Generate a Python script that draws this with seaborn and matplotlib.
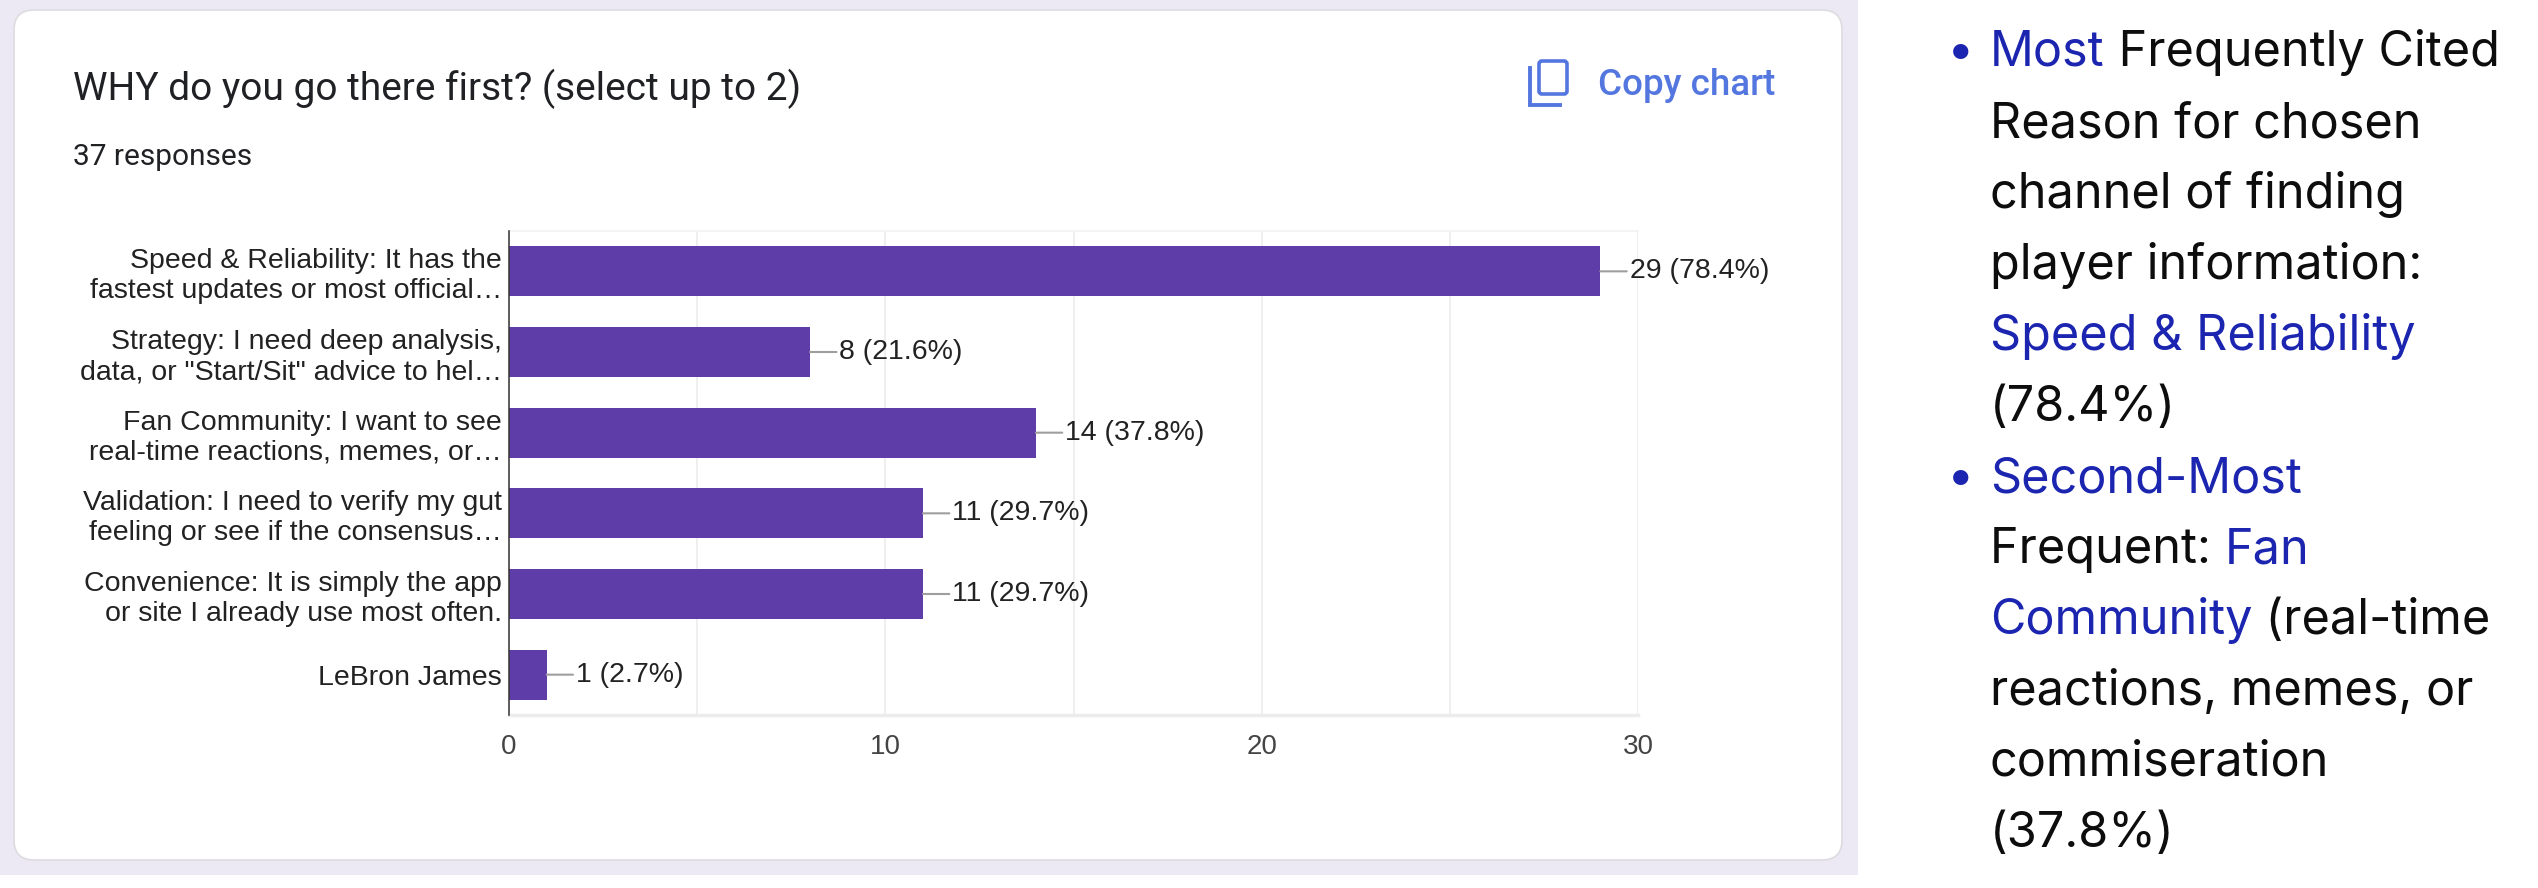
import pandas as pd
import matplotlib
matplotlib.use("Agg")
import matplotlib.pyplot as plt
import seaborn as sns
from matplotlib.patches import FancyBboxPatch, Rectangle
from matplotlib.lines import Line2D
from matplotlib.font_manager import FontProperties

# Chart data
reasons = [
    "Speed & Reliability: It has the\nfastest updates or most official\u2026",
    "Strategy: I need deep analysis,\ndata, or \"Start/Sit\" advice to hel\u2026",
    "Fan Community: I want to see\nreal-time reactions, memes, or\u2026",
    "Validation: I need to verify my gut\nfeeling or see if the consensus\u2026",
    "Convenience: It is simply the app\nor site I already use most often.",
    "LeBron James",
]
counts = [29, 8, 14, 11, 11, 1]
total_responses = 37
x_ticks = [0, 10, 20, 30]

# Side notes: (text, is_highlight) segments per line
notes = [
    [("Most", True), (" Frequently Cited", False)],
    [("Reason for chosen", False)],
    [("channel of finding", False)],
    [("player information:", False)],
    [("Speed & Reliability", True)],
    [("(78.4%)", False)],
    [("Second-Most", True)],
    [("Frequent: ", False), ("Fan", True)],
    [("Community", True), (" (real-time", False)],
    [("reactions, memes, or", False)],
    [("commiseration", False)],
    [("(37.8%)", False)],
]
bullet_lines = [0, 6]

df = pd.DataFrame({"reason": reasons, "count": counts})
df["label"] = [f"{c} ({c / total_responses * 100:.1f}%)" for c in counts]

W, H = 2538, 888
fig = plt.figure(figsize=(W / 100, H / 100), dpi=100)
fig.patch.set_facecolor("white")
px = fig.dpi_scale_trans

# Page background and card
fig.add_artist(Rectangle((0, (H - 875) / 100), 18.58, 8.75, transform=px,
                         facecolor="#ece9f5", edgecolor="none", zorder=-3))
fig.add_artist(FancyBboxPatch((14 / 100, (H - 860) / 100), (1842 - 14) / 100, (860 - 10) / 100,
                              boxstyle="round,pad=0,rounding_size=0.2", transform=px,
                              facecolor="white", edgecolor="#dcdce0", lw=1.2, zorder=-2))

# Header texts
fig.text(73 / W, 1 - 100 / H, "WHY do you go there first? (select up to 2)",
         family="Roboto", fontsize=28, color="#202124", va="baseline")
fig.text(73 / W, 1 - 165 / H, f"{total_responses} responses",
         family="Roboto", fontsize=21.5, color="#202124", va="baseline")

blue_btn = "#5476df"
fig.text(1598 / W, 1 - 95 / H, "Copy chart", family="Roboto", fontweight="medium",
         fontsize=26.5, color=blue_btn, va="baseline")
fig.add_artist(FancyBboxPatch((1539 / 100, (H - 94) / 100), 28 / 100, 33 / 100,
                              boxstyle="round,pad=0,rounding_size=0.03", transform=px,
                              facecolor="none", edgecolor=blue_btn, lw=2.6))
fig.add_artist(Line2D([1530 / 100, 1530 / 100, 1560 / 100],
                      [(H - 68) / 100, (H - 105) / 100, (H - 105) / 100],
                      transform=px, color=blue_btn, lw=2.8, solid_joinstyle="miter"))

# Bar chart
ax = fig.add_axes([509 / W, 1 - 715 / H, (1638 - 509) / W, (715 - 231) / H])
ax.set_facecolor("none")
sns.barplot(data=df, x="count", y="reason", orient="h", color="#5e3da9",
            saturation=1, width=0.62, ax=ax, zorder=3)
ax.set_xlim(0, 30)
ax.set_ylim(5.5, -0.5)
ax.set_xticks(x_ticks)
ax.set_xticks([5, 15, 25], minor=True)
ax.grid(axis="x", which="both", color="#ebebeb", lw=1.1, zorder=0)
ax.set_axisbelow(True)
ax.set_xlabel("")
ax.set_ylabel("")
ax.spines["right"].set_visible(False)
ax.spines["left"].set_color("#333333")
ax.spines["left"].set_linewidth(1.1)
ax.spines["left"].set_zorder(4)
ax.spines["bottom"].set_color("#ececec")
ax.spines["bottom"].set_linewidth(2.5)
ax.spines["top"].set_color("#f2f2f2")
ax.spines["top"].set_linewidth(1.2)
ax.tick_params(axis="y", length=0, pad=5, labelsize=20.5, labelcolor="#222222")
ax.tick_params(axis="x", which="both", length=0, pad=14, labelsize=20, labelcolor="#444444")
for lab in ax.get_yticklabels() + ax.get_xticklabels():
    lab.set_family("Liberation Sans")

for i, (c, lab) in enumerate(zip(df["count"], df["label"])):
    ax.annotate(lab, xy=(c, i), xytext=(21, 0), textcoords="offset points",
                va="center", ha="left", fontsize=20.5, family="Liberation Sans",
                color="#222222",
                arrowprops=dict(arrowstyle="-", color="#9e9e9e", lw=1.5,
                                shrinkA=0, shrinkB=0))

# Side notes with highlighted words
renderer = fig.canvas.get_renderer()
note_fp = FontProperties(family="Inter", size=35)


def text_width(s):
    w1, _, _ = renderer.get_text_width_height_descent(s + "|", note_fp, ismath=False)
    w2, _, _ = renderer.get_text_width_height_descent("|", note_fp, ismath=False)
    return w1 - w2


x0, base0, pitch = 1990, 66, 71
for n, segs in enumerate(notes):
    y = 1 - (base0 + n * pitch) / H
    prefix = ""
    for s, hi in segs:
        x = x0 + (text_width(prefix) if prefix else 0)
        fig.text(x / W, y, s, fontproperties=note_fp, va="baseline",
                 color="#1b25b0" if hi else "#0d0d0d")
        prefix += s
    if n in bullet_lines:
        fig.text(1947 / W, y, "\u2022", fontproperties=note_fp, va="baseline", color="#1b25b0")

fig.savefig("out.png", dpi=100)
